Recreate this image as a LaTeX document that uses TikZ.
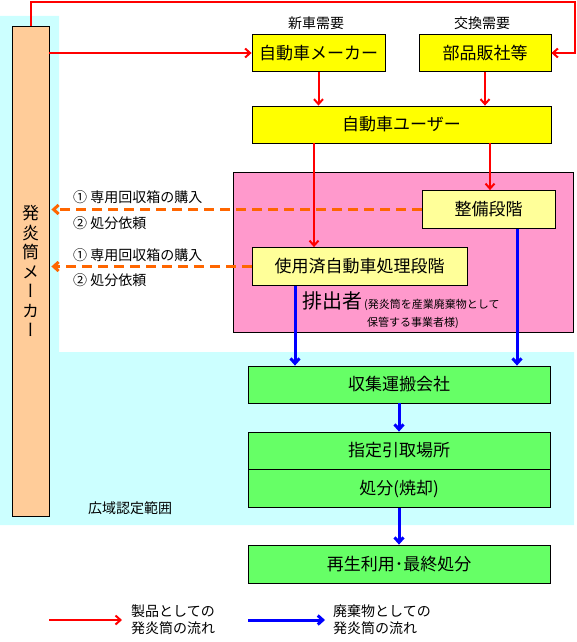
\documentclass[tikz,border=0pt]{standalone}
\usepackage{fontspec}
\setmainfont{Noto Sans CJK JP}
\newfontfamily\vjp[RawFeature=+vert]{Noto Sans CJK JP}
\usetikzlibrary{arrows.meta}
\definecolor{cyanbg}{HTML}{CCFFFF}
\definecolor{pinkbg}{HTML}{FF99CC}
\definecolor{peach}{HTML}{FFCC99}
\definecolor{ylw}{HTML}{FFFF00}
\definecolor{paleylw}{HTML}{FFFF99}
\definecolor{grn}{HTML}{66FF66}
\definecolor{orng}{HTML}{FF6600}
\begin{document}
\begin{tikzpicture}[x=1pt,y=-1pt,
  box/.style={draw,line width=0.8pt,inner sep=0pt,font=\fontsize{17}{20}\selectfont},
  userbox/.style={box,fill=ylw,minimum height=37pt},
  stagebox/.style={box,fill=paleylw,minimum height=38pt},
  wastebox/.style={box,fill=grn,minimum width=302pt,minimum height=37pt},
  note/.style={font=\fontsize{14}{17}\selectfont,inner sep=0pt},
  tip/.style={-{Straight Barb[length=5pt,width=9pt]}},
  prodflow/.style={draw=red,line width=2pt,tip},
  wasteflow/.style={draw=blue,line width=3pt,tip},
  request/.style={draw=orng,line width=3pt,dash pattern=on 10pt off 6pt,tip}]
\useasboundingbox (0,0) rectangle (576,642);
% areas
\fill[cyanbg] (0,16) -- (59,16) -- (59,352) -- (574,352) -- (574,525) -- (0,525) -- cycle;
\draw[fill=pinkbg,line width=0.8pt] (233,172) rectangle (573,332);
\node[note,anchor=west] (area) at (88,508) {広域認定範囲};
% boxes
\node[box,fill=peach,minimum width=37pt,minimum height=490pt,align=center,
  font=\vjp\fontsize{17}{19.5}\selectfont] (hatsuen) at (30.5,271) {発\\炎\\筒\\メ\\ー\\カ\\ー};
\node[userbox,minimum width=133pt] (maker) at (318.5,53) {自動車メーカー};
\node[userbox,minimum width=132pt] (parts) at (485,53) {部品販社等};
\node[note] (newdem) at (316,23) {新車需要};
\node[note] (repdem) at (482,23) {交換需要};
\node[userbox,minimum width=299pt] (user) at (401.5,124.5) {自動車ユーザー};
\node[stagebox,minimum width=133pt] (seibi) at (488.5,209.5) {整備段階};
\node[stagebox,minimum width=215pt] (shori) at (359.5,266.5) {使用済自動車処理段階};
\node[inner sep=0pt,anchor=west,font=\fontsize{20}{22}\selectfont] (haishutsu) at (302,301) {排出者};
\node[inner sep=0pt,anchor=west,align=left,font=\fontsize{11}{18}\selectfont] (haishutsunote) at (364,314)
  {(発炎筒を産業廃棄物として\\\hspace{3pt}保管する事業者様)};
\node[wastebox] (shushu) at (399,384.5) {収集運搬会社};
\node[wastebox] (shitei) at (399,450.5) {指定引取場所};
\node[wastebox,minimum height=38pt,anchor=north] (shobun) at (shitei.south) {処分(焼却)};
\node[wastebox,minimum height=38pt] (saisei) at (399,564) {再生利用･最終処分};
% requests to the maker
\node[note,anchor=west] (buy1) at (73,197) {① 専用回収箱の購入};
\node[note,anchor=west] (ask1) at (73,223) {② 処分依頼};
\node[note,anchor=west] (buy2) at (73,255) {① 専用回収箱の購入};
\node[note,anchor=west] (ask2) at (73,280) {② 処分依頼};
\draw[request] (seibi.west) -- ([xshift=2pt]hatsuen.east |- seibi.west);
\draw[request] (shori.west) -- ([xshift=2pt]hatsuen.east |- shori.west);
% product flow
\coordinate (topR) at (575,2);
\coordinate (laneA) at (314,0);
\draw[prodflow] (hatsuen.north) |- (topR) |- (parts.east);
\draw[prodflow] (hatsuen.east |- maker.west) -- (maker.west);
\draw[prodflow] (maker.south) -- (maker.south |- user.north);
\draw[prodflow] (parts.south) -- (parts.south |- user.north);
\draw[prodflow] ([xshift=1.5pt]seibi.north |- user.south) -- ([xshift=1.5pt]seibi.north);
\draw[prodflow] (laneA |- user.south) -- (laneA |- shori.north);
% waste flow
\coordinate (laneB) at (295,0);
\coordinate (laneC) at (517,0);
\draw[wasteflow] (laneB |- shori.south) -- (laneB |- shushu.north);
\draw[wasteflow] (laneC |- seibi.south) -- (laneC |- shushu.north);
\draw[wasteflow] (shushu.south) -- (shitei.north);
\draw[wasteflow] (shobun.south) -- (saisei.north);
% legend
\coordinate (lgA) at (49,620);
\coordinate (lgB) at (122,620);
\coordinate (lgC) at (248,620);
\coordinate (lgD) at (325,620);
\draw[prodflow] (lgA) -- (lgB);
\draw[wasteflow] (lgC) -- (lgD);
\node[note,anchor=west,align=left] (lgprod) at (131,620) {製品としての\\発炎筒の流れ};
\node[note,anchor=west,align=left] (lgwaste) at (333,620) {廃棄物としての\\発炎筒の流れ};
\end{tikzpicture}
\end{document}
